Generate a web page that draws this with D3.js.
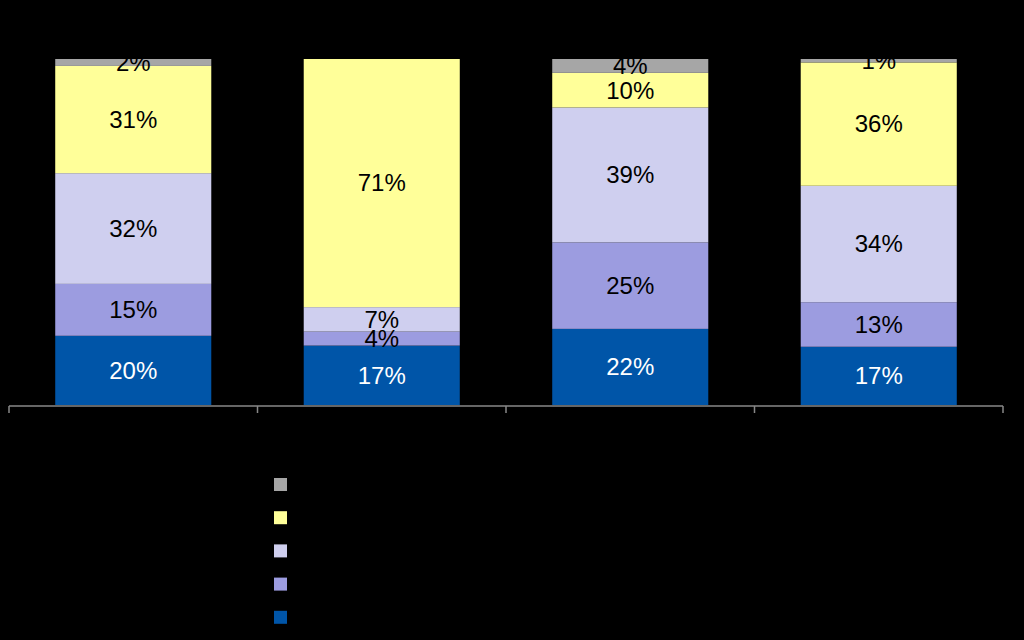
<!DOCTYPE html>
<html><head><meta charset="utf-8">
<script src="https://cdn.jsdelivr.net/npm/d3@7"></script>
<style>html,body{margin:0;padding:0;background:#000;}svg{display:block;}</style>
</head><body>
<svg id="chart" width="1024" height="640"></svg>
<script>
const categories = ["A", "B", "C", "D"];
const seriesNames = ["s1", "s2", "s3", "s4", "s5"]; // bottom to top
const s1 = [20, 17, 22, 17];
const s2 = [15, 4, 25, 13];
const s3 = [32, 7, 39, 34];
const s4 = [31, 71, 10, 36];
const s5 = [2, 0, 4, 1];
const colors = ["#0055A8", "#9C9CE0", "#CFCFEF", "#FFFF99", "#A6A6A6"];
const textColors = ["#FFFFFF", "#000000", "#000000", "#000000", "#000000"];

const seriesVals = [s1, s2, s3, s4, s5];
const rows = categories.map((c, i) => {
  const r = {cat: c};
  seriesNames.forEach((s, k) => r[s] = seriesVals[k][i]);
  return r;
});

const svg = d3.select("#chart");
const W = 1024, H = 640;
svg.append("rect").attr("width", W).attr("height", H).attr("fill", "#000");

const x = d3.scaleBand().domain(categories).range([9, 1003]).paddingInner(0.372).paddingOuter(0.186);
const y = d3.scaleLinear().domain([0, 1]).range([405, 59]);

const stack = d3.stack().keys(seriesNames).offset(d3.stackOffsetExpand);
const layers = stack(rows);

svg.append("clipPath").attr("id", "plotclip")
  .append("rect").attr("x", 0).attr("y", 58).attr("width", W).attr("height", 360);

const g = svg.append("g").attr("clip-path", "url(#plotclip)");

layers.forEach((layer, k) => {
  g.selectAll(null).data(layer).enter().append("rect")
    .attr("x", d => x(d.data.cat))
    .attr("width", x.bandwidth())
    .attr("y", d => y(d[1]))
    .attr("height", d => y(d[0]) - y(d[1]))
    .attr("fill", colors[k]);
});

layers.forEach((layer, k) => {
  g.selectAll(null).data(layer.filter(d => d.data[seriesNames[k]] > 0)).enter().append("text")
    .attr("x", d => x(d.data.cat) + x.bandwidth() / 2)
    .attr("y", d => (y(d[0]) + y(d[1])) / 2)
    .attr("dy", "0.35em")
    .attr("text-anchor", "middle")
    .attr("font-family", "Liberation Sans, Arial, sans-serif")
    .attr("font-size", 24)
    .attr("fill", textColors[k])
    .text(d => d.data[seriesNames[k]] + "%");
});

// axis
const axis = d3.axisBottom(x).tickSize(7).tickFormat("");
const ag = svg.append("g").attr("transform", "translate(0,406)").call(axis);
ag.select(".domain").attr("stroke", "#888").attr("stroke-width", 1.5);
ag.selectAll(".tick").remove();
const bounds = [9].concat(categories.map(c => x(c) + x.bandwidth() / 2 + x.step() / 2));
ag.selectAll(null).data(bounds).enter().append("line")
  .attr("x1", d => d).attr("x2", d => d).attr("y1", 0).attr("y2", 7)
  .attr("stroke", "#888").attr("stroke-width", 1.5);
ag.select(".domain").attr("d", "M9,0H1003");

// legend (top to bottom: s5..s1)
const legendOrder = [4, 3, 2, 1, 0];
const lg = svg.append("g");
lg.selectAll(null).data(legendOrder).enter().append("rect")
  .attr("x", 274).attr("y", (d, i) => 478 + i * 33.2)
  .attr("width", 13).attr("height", 13)
  .attr("fill", d => colors[d]);
</script>
</body></html>
